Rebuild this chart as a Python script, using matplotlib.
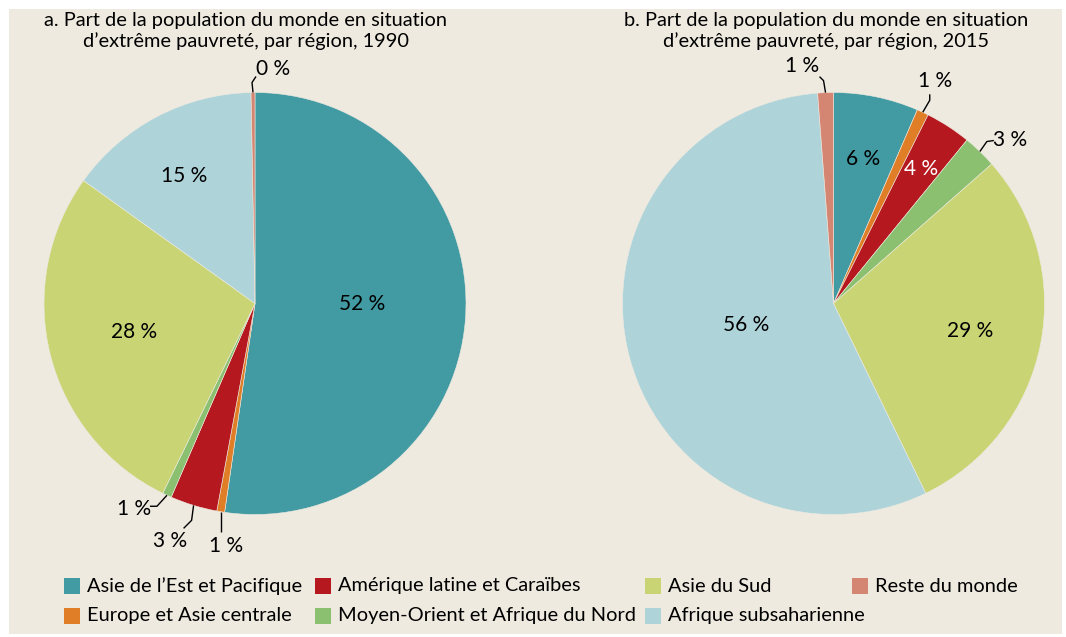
import matplotlib
matplotlib.use("Agg")
import matplotlib.pyplot as plt
from matplotlib.patches import Rectangle
import numpy as np

# ---- data ----
categories = ["Asie de l\u2019Est et Pacifique", "Europe et Asie centrale",
              "Am\u00e9rique latine et Cara\u00efbes", "Moyen-Orient et Afrique du Nord",
              "Asie du Sud", "Afrique subsaharienne", "Reste du monde"]
values_1990 = [52.3, 0.6, 3.6, 0.7, 27.7, 14.8, 0.3]
values_2015 = [6.5, 0.9, 3.5, 2.6, 29.3, 56.0, 1.2]
labels_1990 = ["52 %", "1 %", "3 %", "1 %", "28 %", "15 %", "0 %"]
labels_2015 = ["6 %", "1 %", "4 %", "3 %", "29 %", "56 %", "1 %"]
title_1990 = "a. Part de la population du monde en situation\nd\u2019extr\u00eame pauvret\u00e9, par r\u00e9gion, 1990"
title_2015 = "b. Part de la population du monde en situation\nd\u2019extr\u00eame pauvret\u00e9, par r\u00e9gion, 2015"

colors = ["#429AA3", "#E07E28", "#B5191F", "#8BC070", "#C9D574", "#AED4DA", "#D58672"]
BG = "#EEEAE0"

plt.rcParams["font.family"] = ["Lato", "DejaVu Sans"]

W, H = 1066, 637
fig = plt.figure(figsize=(W / 100, H / 100), dpi=100)
fig.patch.set_facecolor("white")
ax = fig.add_axes([0, 0, 1, 1])
ax.set_xlim(0, W)
ax.set_ylim(0, H)
ax.axis("off")

def Y(ypx):
    return H - ypx

ax.add_patch(Rectangle((9, Y(634)), 1053, 625, facecolor=BG, edgecolor="none", zorder=0))

R = 211
FS = 14.4
FSL = 15

# ("in", radius_frac, color, (dx, dy)) or ("out", leader offsets, text offset)
style_1990 = [
    ("in", 0.50, "black", (2, 7)),
    ("out", [(0, 0), (0, -20)], (5, -34)),
    ("out", [(0, 0), (-2, -15), (-10, -23)], (-24, -36)),
    ("out", [(0, 0), (-10, -11), (-17, -11)], (-33, -14)),
    ("in", 0.59, "black", (0, 2)),
    ("in", 0.66, "black", (-6, 4)),
    ("out", [(0, 0), (-1, 10), (3, 16)], (20, 24)),
]
style_2015 = [
    ("in", 0.70, "black", (0, 0)),
    ("out", [(0, 0), (7, 12), (7, 18)], (12, 31)),
    ("in", 0.76, "white", (0, 0)),
    ("out", [(0, 0), (7, 10), (14, 11)], (30, 12)),
    ("in", 0.66, "black", (0, 0)),
    ("in", 0.43, "black", (0, 2)),
    ("out", [(0, 0), (-2, 12), (-6, 16)], (-23, 27)),
]

def draw_pie(cx, cy, values, labels, styles, title, title_x):
    wedges, _ = ax.pie(values, colors=colors, startangle=90, counterclock=False,
                       center=(cx, Y(cy)), radius=R,
                       wedgeprops=dict(edgecolor=BG, linewidth=0.4), frame=True)
    for w, lab, st in zip(wedges, labels, styles):
        ang = np.deg2rad((w.theta1 + w.theta2) / 2)
        c, s = np.cos(ang), np.sin(ang)
        if st[0] == "in":
            ax.text(cx + st[1] * R * c + st[3][0], Y(cy) + st[1] * R * s + st[3][1], lab,
                    ha="center", va="center", fontsize=FSL, color=st[2], zorder=5)
        else:
            ex, ey = cx + R * c, Y(cy) + R * s
            pts = st[1]
            xs = [ex + p[0] for p in pts]
            ys = [ey + p[1] for p in pts]
            ax.plot(xs, ys, color="black", lw=1.0, zorder=5, solid_capstyle="butt")
            ax.text(ex + st[2][0], ey + st[2][1], lab, ha="center", va="center",
                    fontsize=FSL, color="black", zorder=5)
    ax.text(title_x, Y(31), title, ha="center", va="center", fontsize=FS,
            linespacing=1.22, color="black")

draw_pie(255, 303.5, values_1990, labels_1990, style_1990, title_1990, 246)
draw_pie(833.5, 303.5, values_2015, labels_2015, style_2015, title_2015, 826)

ax.set_xlim(0, W)
ax.set_ylim(0, H)
ax.set_aspect("auto")

# ---- legend (column-major, 2 rows) ----
col_x = [64, 315, 645, 852]
row_y = [586, 616]
for i, (cat, col) in enumerate(zip(categories, colors)):
    cidx, ridx = divmod(i, 2)
    x0, y0 = col_x[cidx], row_y[ridx]
    ax.add_patch(Rectangle((x0, Y(y0) - 8), 16, 16, facecolor=col, edgecolor="none"))
    ax.text(x0 + 23, Y(y0), cat, ha="left", va="center", fontsize=FS, color="black")

fig.savefig("out.png", dpi=100, facecolor="white")
